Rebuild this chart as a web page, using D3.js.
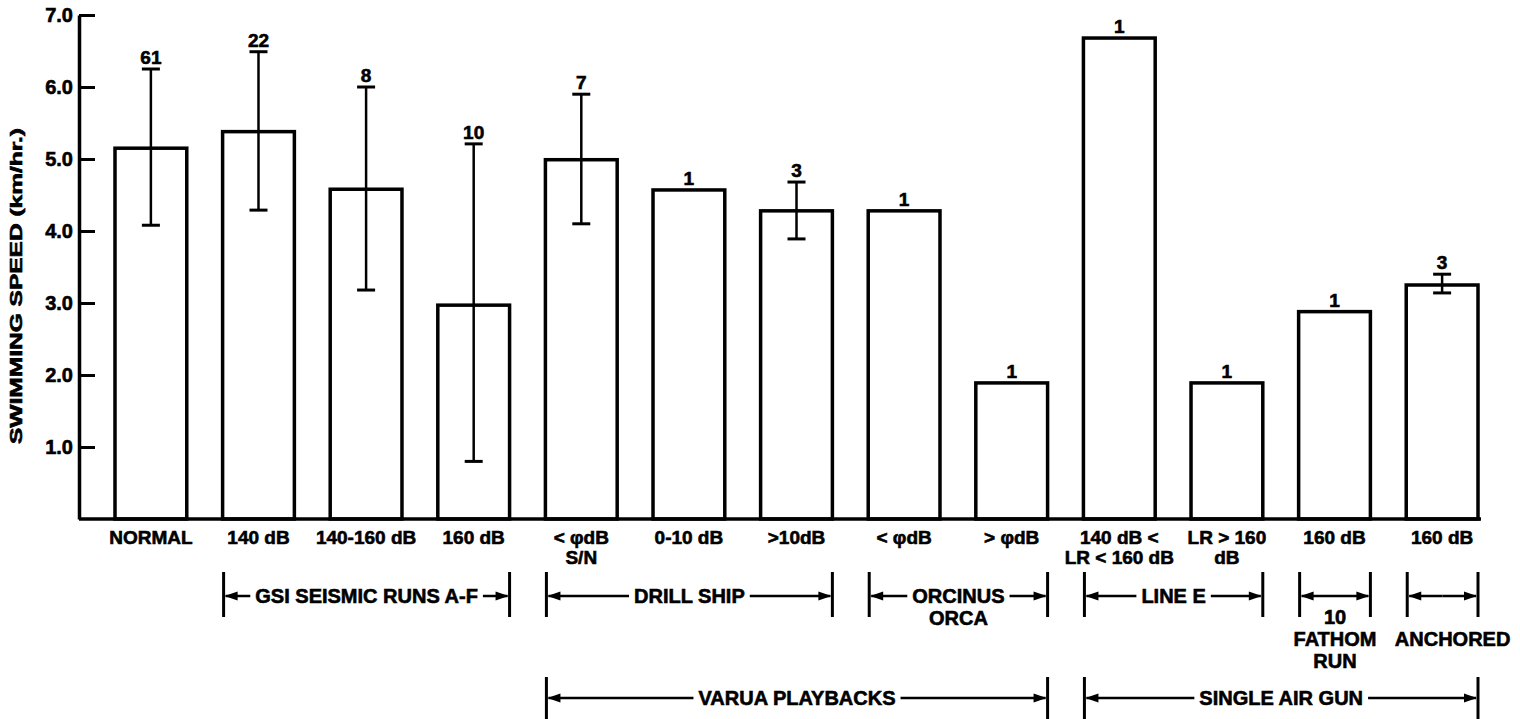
<!DOCTYPE html>
<html>
<head>
<meta charset="utf-8">
<script src="https://d3js.org/d3.v7.min.js"></script>
<style>
  body { margin: 0; background: white; }
  text { font-family: "Liberation Sans", Arial, sans-serif; font-weight: bold; fill: black;
         stroke: black; stroke-width: 0.6px; }
</style>
</head>
<body>
<svg class="chart"></svg>
<script>

// bar categories, one label line per entry
categories = ['NORMAL', '140 dB', '140-160 dB', '160 dB', '< φdB|S/N', '0-10 dB', '>10dB',
              '< φdB', '> φdB', '140 dB <|LR < 160 dB', 'LR > 160|dB', '160 dB', '160 dB ']

// mean swimming speed (km/hr)
speeds  = [5.15, 5.38, 4.58, 2.97, 4.99, 4.57, 4.28, 4.28, 1.89, 6.68, 1.89, 2.88, 3.25]
errLow  = [4.08, 4.29, 3.18, 0.80, 4.10, null, 3.89, null, null, null, null, null, 3.14]
errHigh = [6.25, 6.49, 6.00, 5.21, 5.90, null, 4.68, null, null, null, null, null, 3.40]
counts  = [61, 22, 8, 10, 7, 1, 3, 1, 1, 1, 1, 1, 3]

yTicks = [1, 2, 3, 4, 5, 6, 7]

// brackets under the axis: [first bar, last bar, label lines, label under the arrow?]
bracketsTop = [
  [1, 3, ['GSI SEISMIC RUNS A-F'], false],
  [4, 6, ['DRILL SHIP'], false],
  [7, 8, ['ORCINUS', 'ORCA'], false],
  [9, 10, ['LINE E'], false],
  [11, 11, ['10', 'FATHOM', 'RUN'], true],
  [12, 12, ['', 'ANCHORED'], true]
]
bracketsBottom = [
  [4, 8, ['VARUA PLAYBACKS'], false],
  [9, 12, ['SINGLE AIR GUN'], false]
]

width = 1520
height = 719

svg = d3.select('.chart')
  .attr('width', width)
  .attr('height', height)

x = d3.scaleBand()
  .domain(d3.range(categories.length))
  .range([115, 1478])
  .paddingInner(0.333)
  .paddingOuter(0)

y = d3.scaleLinear()
  .domain([0, 7])
  .range([519, 15])

// y axis, ticks point inward
yAxis = svg.append('g')
  .attr('transform', 'translate(79,0)')
  .call(d3.axisLeft(y).tickValues(yTicks).tickFormat(d3.format('.1f'))
        .tickSizeInner(-16).tickSizeOuter(0).tickPadding(6))
yAxis.select('.domain').attr('stroke-width', 3.5)
yAxis.selectAll('.tick line').attr('stroke-width', 3)
yAxis.selectAll('.tick text')
  .style('font-size', '20px')
  .style('font-family', '"Liberation Sans", Arial, sans-serif')
  .style('font-weight', 'bold')

svg.append('text')
  .attr('transform', 'translate(22,286) rotate(-90)')
  .attr('text-anchor', 'middle')
  .attr('textLength', 316)
  .attr('lengthAdjust', 'spacingAndGlyphs')
  .style('font-size', '16px')
  .text('SWIMMING SPEED (km/hr.)')

// bars
svg.selectAll('rect.bar')
  .data(speeds)
  .join('rect')
    .attr('class', 'bar')
    .attr('x', (d, i) => x(i))
    .attr('y', d => y(d))
    .attr('width', x.bandwidth())
    .attr('height', d => y(0) - y(d))
    .attr('fill', 'white')
    .attr('stroke', 'black')
    .attr('stroke-width', 3.5)

// baseline
svg.append('line')
  .attr('x1', 79).attr('x2', 1481)
  .attr('y1', y(0)).attr('y2', y(0))
  .attr('stroke', 'black')
  .attr('stroke-width', 3.5)

// error bars
errIdx = d3.range(speeds.length).filter(i => errHigh[i] != null)
cx = i => x(i) + x.bandwidth() / 2
eb = svg.append('g').attr('stroke', 'black')
eb.selectAll('line.v').data(errIdx).join('line')
  .attr('class', 'v')
  .attr('x1', cx).attr('x2', cx)
  .attr('y1', i => y(errLow[i])).attr('y2', i => y(errHigh[i]))
  .attr('stroke-width', 2.5)
eb.selectAll('line.hi').data(errIdx).join('line')
  .attr('class', 'hi')
  .attr('x1', i => cx(i) - 9).attr('x2', i => cx(i) + 9)
  .attr('y1', i => y(errHigh[i])).attr('y2', i => y(errHigh[i]))
  .attr('stroke-width', 3)
eb.selectAll('line.lo').data(errIdx).join('line')
  .attr('class', 'lo')
  .attr('x1', i => cx(i) - 9).attr('x2', i => cx(i) + 9)
  .attr('y1', i => y(errLow[i])).attr('y2', i => y(errLow[i]))
  .attr('stroke-width', 3)

// sample sizes above bars / caps
svg.selectAll('text.n')
  .data(counts)
  .join('text')
    .attr('class', 'n')
    .attr('x', (d, i) => cx(i))
    .attr('y', (d, i) => y(errHigh[i] != null ? errHigh[i] : speeds[i]) - 5)
    .attr('text-anchor', 'middle')
    .style('font-size', '19px')
    .text(d => d)

// category labels
categories.forEach((c, i) => {
  c.trim().split('|').forEach((line, j) => {
    svg.append('text')
      .attr('x', cx(i))
      .attr('y', 544 + j * 20)
      .attr('text-anchor', 'middle')
      .style('font-size', '19px')
      .text(line)
  })
})

function arrowHead(g, tx, ty, dir) {
  // dir = -1 points left, 1 points right
  g.append('path')
    .attr('d', `M${tx},${ty} L${tx - dir * 13},${ty - 4.5} L${tx - dir * 13},${ty + 4.5} Z`)
    .attr('fill', 'black')
}

function drawBrackets(list, yLine, tickTop, tickBot) {
  list.forEach(([a, b, lines, below]) => {
    g = svg.append('g')
    x0 = x(a) + 1
    x1 = x(b) + x.bandwidth()
    mid = (x0 + x1) / 2
    g.selectAll('line.t').data([x0, x1]).join('line')
      .attr('x1', d => d).attr('x2', d => d)
      .attr('y1', tickTop).attr('y2', tickBot)
      .attr('stroke', 'black').attr('stroke-width', 3)
    gapL = mid, gapR = mid
    if (!below) {
      t = g.append('text')
        .attr('x', mid).attr('y', yLine + 7)
        .attr('text-anchor', 'middle')
        .style('font-size', '20px')
        .text(lines[0])
      w = t.node().getComputedTextLength()
      gapL = mid - w / 2 - 5
      gapR = mid + w / 2 + 5
    }
    g.append('line').attr('x1', x0 + 2).attr('x2', gapL).attr('y1', yLine).attr('y2', yLine)
      .attr('stroke', 'black').attr('stroke-width', 2.5)
    g.append('line').attr('x1', gapR).attr('x2', x1 - 2).attr('y1', yLine).attr('y2', yLine)
      .attr('stroke', 'black').attr('stroke-width', 2.5)
    arrowHead(g, x0 + 1, yLine, -1)
    arrowHead(g, x1 - 1, yLine, 1)
    lines.forEach((line, j) => {
      if (!below && j == 0) return
      g.append('text')
        .attr('x', mid + (line == 'ANCHORED' ? 10 : 0))
        .attr('y', below ? yLine + 28 + j * 22 : yLine + 29 + (j - 1) * 22)
        .attr('text-anchor', 'middle')
        .style('font-size', '20px')
        .text(line)
    })
  })
}

drawBrackets(bracketsTop, 596, 572, 617)
drawBrackets(bracketsBottom, 698, 677, 722)

</script>
</body>
</html>
